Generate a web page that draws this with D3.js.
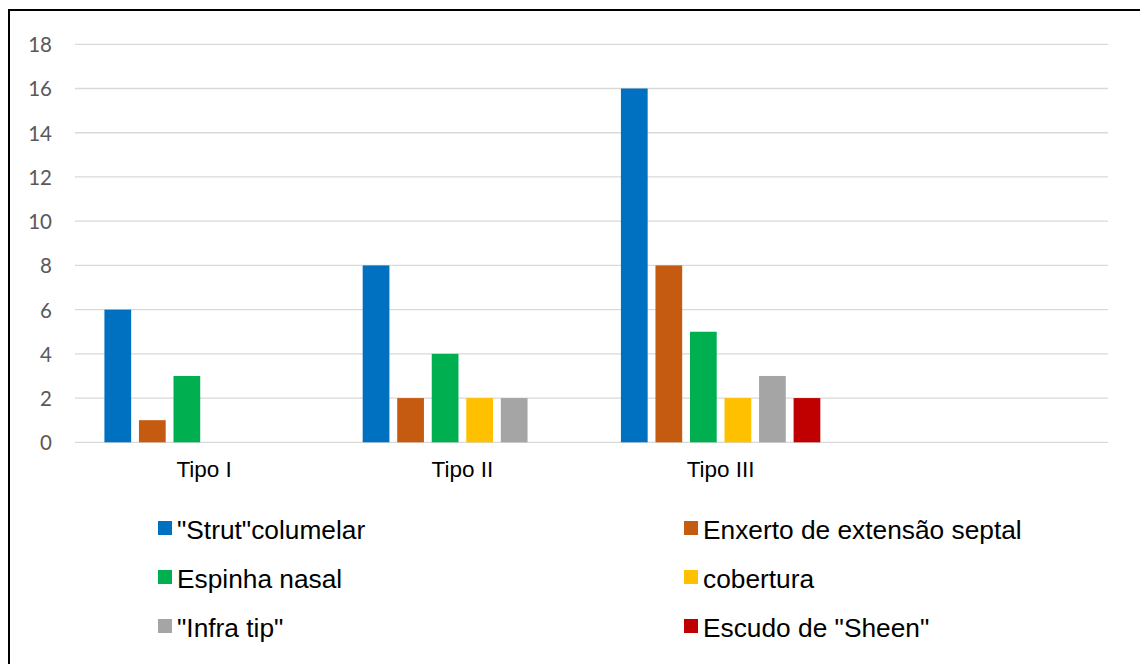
<!DOCTYPE html>
<html>
<head>
<meta charset="utf-8">
<script src="https://cdn.jsdelivr.net/npm/d3@7"></script>
<style>
  html, body { margin: 0; padding: 0; background: #fff; }
  svg { display: block; }
</style>
</head>
<body>
<svg id="chart" width="1140" height="664"></svg>
<script>
const categories = ["Tipo I", "Tipo II", "Tipo III", ""];
const seriesNames = ["\"Strut\"columelar", "Enxerto de extensão septal", "Espinha nasal", "cobertura", "\"Infra tip\"", "Escudo de \"Sheen\""];
const seriesColors = ["#0070C0", "#C55A11", "#00B050", "#FFC000", "#A5A5A5", "#C00000"];
const strutColumelar = [6, 8, 16, null];
const enxertoSeptal = [1, 2, 8, null];
const espinhaNasal = [3, 4, 5, null];
const cobertura = [0, 2, 2, null];
const infraTip = [0, 2, 3, null];
const escudoSheen = [0, 0, 2, null];
const yTicks = [0, 2, 4, 6, 8, 10, 12, 14, 16, 18];

const seriesValues = [strutColumelar, enxertoSeptal, espinhaNasal, cobertura, infraTip, escudoSheen];

const svg = d3.select("#chart");

// outer border
svg.append("rect")
  .attr("x", 9).attr("y", 10)
  .attr("width", 1200).attr("height", 700)
  .attr("fill", "none").attr("stroke", "#000").attr("stroke-width", 2);

const x0 = d3.scaleBand().domain(categories).range([75, 1108]).paddingInner(0).paddingOuter(0);
const x1 = d3.scaleBand().domain(d3.range(seriesNames.length))
  .range([0, x0.bandwidth()]).paddingInner(0.226).paddingOuter(0.852);
const y = d3.scaleLinear().domain([0, 18]).range([442.3, 44.3]);

// gridlines
svg.append("g").selectAll("line").data(yTicks).join("line")
  .attr("x1", 75).attr("x2", 1108)
  .attr("y1", d => y(d)).attr("y2", d => y(d))
  .attr("stroke", "#d9d9d9").attr("stroke-width", 1.3);

// y axis labels
const yAxis = d3.axisLeft(y).tickValues(yTicks).tickSize(0).tickPadding(0);
const yg = svg.append("g").attr("transform", "translate(52,0)").call(yAxis);
yg.select(".domain").remove();
yg.selectAll("text")
  .attr("fill", "#595959")
  .attr("dy", "0.36em")
  .style("font-family", "Lato, 'Open Sans', sans-serif")
  .style("font-size", "20.5px");

// bars
const groups = svg.append("g").selectAll("g").data(categories).join("g")
  .attr("transform", d => `translate(${x0(d)},0)`);
groups.selectAll("rect")
  .data((c, ci) => seriesValues.map((vals, si) => ({ si, v: vals[ci] })).filter(d => d.v))
  .join("rect")
  .attr("x", d => x1(d.si))
  .attr("width", x1.bandwidth())
  .attr("y", d => y(d.v))
  .attr("height", d => y(0) - y(d.v))
  .attr("fill", d => seriesColors[d.si]);

// category labels
const xAxis = d3.axisBottom(x0).tickSize(0).tickPadding(0);
const xg = svg.append("g").attr("transform", "translate(0,461)").call(xAxis);
xg.select(".domain").remove();
xg.selectAll("text")
  .attr("fill", "#000")
  .attr("dy", "0.72em")
  .style("font-family", "'Liberation Sans', Arial, sans-serif")
  .style("font-size", "22.5px");

// legend
const legendX = [158, 684];
const legendY = [528, 577, 626];
const leg = svg.append("g").selectAll("g").data(seriesNames).join("g")
  .attr("transform", (d, i) => `translate(${legendX[i % 2]},${legendY[Math.floor(i / 2)]})`);
leg.append("rect")
  .attr("x", 0).attr("y", -7).attr("width", 14).attr("height", 14)
  .attr("fill", (d, i) => seriesColors[i]);
leg.append("text")
  .attr("x", 19).attr("y", 10.5)
  .attr("fill", "#000")
  .style("font-family", "'Liberation Sans', Arial, sans-serif")
  .style("font-size", "26.3px")
  .text(d => d);
</script>
</body>
</html>
